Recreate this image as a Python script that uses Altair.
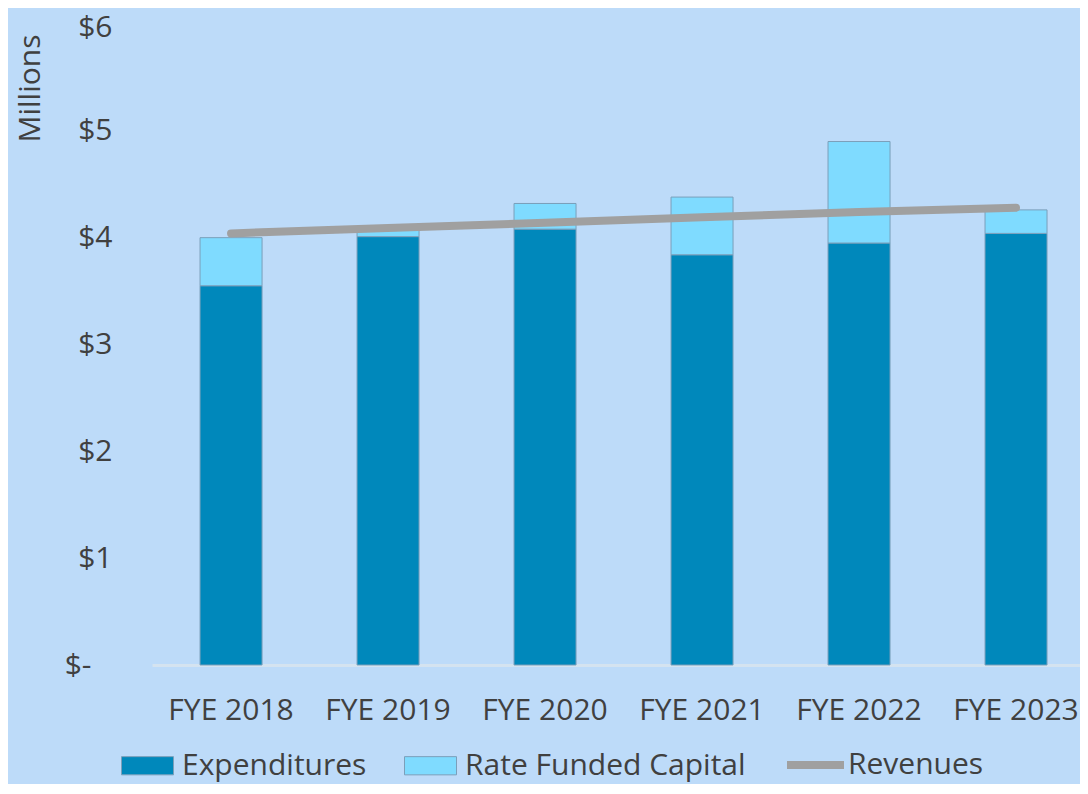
import altair as alt
import pandas as pd

years = ["FYE 2018", "FYE 2019", "FYE 2020", "FYE 2021", "FYE 2022", "FYE 2023"]
expenditures = [3.55, 4.01, 4.08, 3.84, 3.95, 4.04]
rate_funded_capital = [0.45, 0.07, 0.24, 0.54, 0.95, 0.22]
revenues = [4.04, 4.09, 4.14, 4.19, 4.24, 4.28]
y_ticks = [0, 1, 2, 3, 4, 5, 6]

bar_series = ["Expenditures", "Rate Funded Capital"]
bar_colors = ["#0088bb", "#7fdbff"]

rows = []
for i, yr in enumerate(years):
    rows.append({"year": yr, "series": bar_series[0], "value": expenditures[i], "ord": 0})
    rows.append({"year": yr, "series": bar_series[1], "value": rate_funded_capital[i], "ord": 1})
bar_df = pd.DataFrame(rows)
line_df = pd.DataFrame({"year": years, "value": revenues, "line_series": ["Revenues"] * len(years)})

FONT = "Open Sans"
TXT = "#404040"
FS = 30

y_axis = alt.Axis(
    values=y_ticks,
    labelExpr="datum.value == 0 ? '$-' : '$' + datum.value",
    grid=False, domain=False, ticks=False,
    labelPadding={"condition": {"test": "datum.value == 0", "value": 61}, "value": 40},
    labelOffset={"condition": {"test": "datum.value == 6", "value": 3}, "value": 0},
    labelFontSize=FS, labelFont=FONT, labelColor=TXT,
    title="Millions", titleFont=FONT, titleFontSize=FS, titleFontWeight="normal",
    titleColor=TXT, titleAngle=270, titleAlign="right", titleBaseline="middle",
    titleX=-122, titleY=10,
)
y_scale = alt.Scale(domain=[0, 6], nice=False, zero=True)
x_enc = alt.X(
    "year:N", sort=years, title=None,
    scale=alt.Scale(paddingInner=0.605, paddingOuter=0.258, align=0.593),
    axis=alt.Axis(labelAngle=0, ticks=False, domain=True, domainColor="#d4e3f0",
                  domainWidth=3, labelPadding=30, labelFontSize=FS, labelFont=FONT,
                  labelColor=TXT, grid=False),
)

bars = alt.Chart(bar_df).mark_bar(stroke="#7b9fba", strokeWidth=1).encode(
    x=x_enc,
    y=alt.Y("value:Q", stack="zero", scale=y_scale, axis=y_axis),
    color=alt.Color(
        "series:N",
        scale=alt.Scale(domain=bar_series, range=bar_colors),
        legend=alt.Legend(
            title=None, orient="none", direction="horizontal", columns=2,
            legendX=-31, legendY=715, padding=0,
            symbolType="M-1,-0.35H1V0.35H-1Z", symbolSize=2704,
            symbolStrokeColor="#7b9fba", symbolStrokeWidth=1, symbolOpacity=1,
            labelFont=FONT, labelFontSize=FS, labelColor=TXT, labelOffset=8,
            columnPadding=35, labelLimit=400,
        ),
    ),
    order=alt.Order("ord:Q"),
)

line = alt.Chart(line_df).mark_line(strokeWidth=8, strokeCap="round").encode(
    x=alt.X("year:N", sort=years),
    y=alt.Y("value:Q", scale=y_scale, axis=y_axis),
    stroke=alt.Stroke(
        "line_series:N",
        scale=alt.Scale(domain=["Revenues"], range=["#a0a0a0"]),
        legend=alt.Legend(
            title=None, orient="none", direction="horizontal",
            legendX=631, legendY=708.5, padding=0,
            symbolType="stroke", symbolSize=3249, symbolStrokeWidth=8,
            labelFont=FONT, labelFontSize=FS, labelColor=TXT, labelOffset=0,
            labelLimit=400,
        ),
    ),
)

chart = alt.layer(bars, line).properties(
    width=928, height=641,
    padding={"left": 144, "top": 16, "right": 0, "bottom": 119},
    autosize=alt.AutoSizeParams(type="none"),
    background="#bddbf9",
).configure_view(stroke=None)

chart.save("out.html", embed_options={"renderer": "svg", "actions": False})
